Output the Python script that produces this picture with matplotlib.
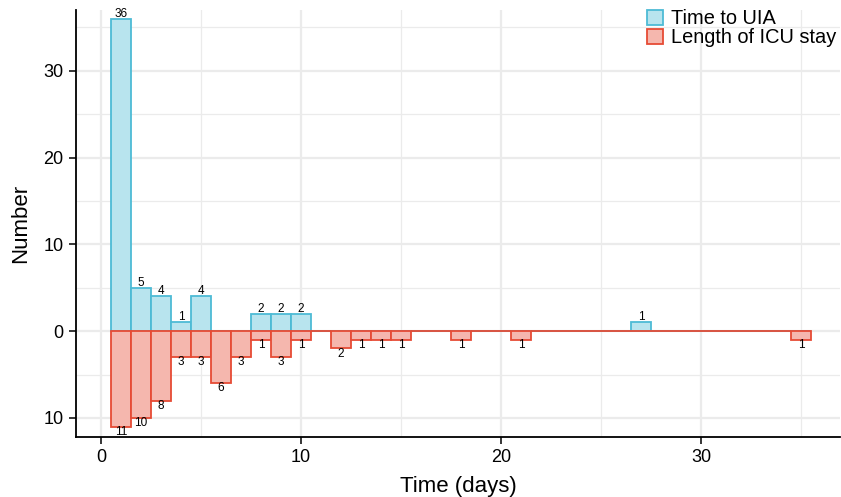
import numpy as np
import matplotlib.pyplot as plt
from matplotlib.patches import Patch

# Time to UIA (days -> count)
uia_days = [1, 2, 3, 4, 5, 8, 9, 10, 27]
uia_counts = [36, 5, 4, 1, 4, 2, 2, 2, 1]

# Length of ICU stay (days -> count)
icu_days = [1, 2, 3, 4, 5, 6, 7, 8, 9, 10, 12, 13, 14, 15, 18, 21, 35]
icu_counts = [11, 10, 8, 3, 3, 6, 3, 1, 3, 1, 2, 1, 1, 1, 1, 1, 1]

blue_edge = "#4DBBD5"
blue_fill = "#B8E4EE"
red_edge = "#E64B35"
red_fill = "#F5B7AE"

plt.rcParams['font.family'] = ['Liberation Sans', 'DejaVu Sans']

fig = plt.figure(figsize=(8.41, 4.97), dpi=100)
ax = fig.add_axes([76 / 841, 60 / 497, 764 / 841, 427 / 497])

# full day range, zero-height bars included (drawn as outline at 0)
all_days = np.arange(1, 36)
uia_full = np.zeros(len(all_days))
icu_full = np.zeros(len(all_days))
for d, c in zip(uia_days, uia_counts):
    uia_full[d - 1] = c
for d, c in zip(icu_days, icu_counts):
    icu_full[d - 1] = c

ax.bar(all_days, uia_full, width=1.0, color=blue_fill, edgecolor=blue_edge,
       linewidth=1.3, zorder=3)
ax.bar(all_days, -icu_full, width=1.0, color=red_fill, edgecolor=red_edge,
       linewidth=1.3, zorder=4)

for d, c in zip(uia_days, uia_counts):
    ax.text(d, c - 0.1, str(c), ha='center', va='bottom', fontsize=8.5, zorder=5)
for d, c in zip(icu_days, icu_counts):
    ax.text(d, -c + 0.1, str(c), ha='center', va='top', fontsize=8.5, zorder=5)

ax.set_xlim(-1.25, 36.95)
ax.set_ylim(-12.2, 37.0)

ax.set_xticks([0, 10, 20, 30])
ax.set_xticks([5, 15, 25, 35], minor=True)
ax.set_yticks([-10, 0, 10, 20, 30])
ax.set_yticklabels(['10', '0', '10', '20', '30'])
ax.set_yticks([-5, 5, 15, 25, 35], minor=True)

ax.grid(which='major', color='#EBEBEB', linewidth=1.6, zorder=0)
ax.grid(which='minor', color='#EBEBEB', linewidth=0.9, zorder=0)
ax.set_axisbelow(True)

for s in ['top', 'right']:
    ax.spines[s].set_visible(False)
for s in ['left', 'bottom']:
    ax.spines[s].set_linewidth(1.3)
    ax.spines[s].set_color('black')

ax.tick_params(axis='both', which='major', labelsize=13, length=5, width=1.1,
               color='black', labelcolor='black', pad=4)
ax.tick_params(axis='both', which='minor', length=0)

ax.set_xlabel('Time (days)', fontsize=16, labelpad=7)
ax.set_ylabel('Number', fontsize=16, labelpad=9)

handles = [Patch(facecolor=blue_fill, edgecolor=blue_edge, linewidth=1.3, label='Time to UIA'),
           Patch(facecolor=red_fill, edgecolor=red_edge, linewidth=1.3, label='Length of ICU stay')]
ax.legend(handles=handles, loc='upper right', bbox_to_anchor=(1.005, 1.02), frameon=False,
          fontsize=14.4, handlelength=0.8, handleheight=0.8, handletextpad=0.4,
          labelspacing=0.0, borderaxespad=0.0)

fig.savefig('out.png', dpi=100)
